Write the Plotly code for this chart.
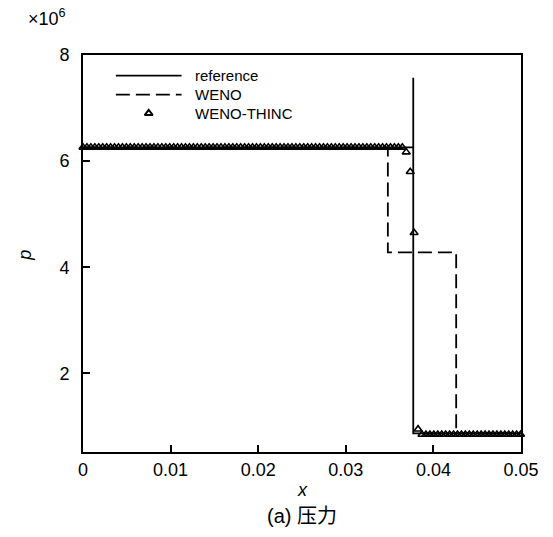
import numpy as np
import plotly.graph_objects as go

# reference solution
ref_x = [0.0, 0.0377, 0.0377, 0.0377, 0.05]
ref_y = [6.26, 6.26, 7.57, 0.87, 0.87]

# WENO
weno_x = [0.0, 0.0348, 0.0348, 0.0426, 0.0426, 0.05]
weno_y = [6.26, 6.26, 4.28, 4.28, 0.87, 0.87]

# WENO-THINC (cell samples)
thinc_x = [round(i * 0.00045, 5) for i in range(112)]
thinc_y = [6.26] * 82 + [6.17, 5.80, 4.65, 0.95] + [0.85] * 26

x_ticks = [0, 0.01, 0.02, 0.03, 0.04, 0.05]
x_ticklabels = ["0", "0.01", "0.02", "0.03", "0.04", "0.05"]
y_ticks = [2, 4, 6, 8]

legend_names = ["reference", "WENO", "WENO-THINC"]

FONT = "Liberation Sans, Arial, Noto Sans CJK SC, sans-serif"

fig = go.Figure()
fig.add_trace(go.Scatter(x=ref_x, y=ref_y, mode="lines",
                         line=dict(color="black", width=1.8), showlegend=False))
fig.add_trace(go.Scatter(x=weno_x, y=weno_y, mode="lines",
                         line=dict(color="black", width=1.8, dash="14px,6px"), showlegend=False))
fig.add_trace(go.Scatter(x=thinc_x, y=thinc_y, mode="markers",
                         marker=dict(symbol="triangle-up-open", size=7, color="black",
                                     line=dict(width=1.6, color="black")),
                         cliponaxis=False, showlegend=False))

# manual legend on overlay axes (0..1 in plot area)
leg_rows = [0.948, 0.900, 0.853]
fig.add_trace(go.Scatter(x=[0.075, 0.225], y=[leg_rows[0]] * 2, mode="lines",
                         line=dict(color="black", width=1.8), xaxis="x2", yaxis="y2", showlegend=False))
fig.add_trace(go.Scatter(x=[0.075, 0.225], y=[leg_rows[1]] * 2, mode="lines",
                         line=dict(color="black", width=1.8, dash="14px,6px"), xaxis="x2", yaxis="y2", showlegend=False))
fig.add_trace(go.Scatter(x=[0.15], y=[leg_rows[2]], mode="markers",
                         marker=dict(symbol="triangle-up-open", size=7, color="black",
                                     line=dict(width=2, color="black")),
                         xaxis="x2", yaxis="y2", showlegend=False))
for name, yy in zip(legend_names, leg_rows):
    fig.add_annotation(x=0.25, y=yy, xref="x2", yref="y2", text=name, showarrow=False,
                       xanchor="left", yanchor="middle", font=dict(size=15, family=FONT, color="black"))

axis_common = dict(showgrid=False, zeroline=False, showline=True, linecolor="black", linewidth=2,
                   mirror=True, ticks="inside", ticklen=7, tickwidth=1.5, tickcolor="black",
                   tickfont=dict(size=18, family=FONT, color="black"))

fig.update_layout(
    width=553, height=537,
    margin=dict(l=83, r=32, t=55, b=85),
    paper_bgcolor="white", plot_bgcolor="white",
    xaxis=dict(range=[0, 0.05], tickvals=x_ticks, ticktext=x_ticklabels, **axis_common),
    yaxis=dict(range=[0.52, 8.0], tickvals=y_ticks, ticklabelstandoff=8, **axis_common),
    xaxis2=dict(range=[0, 1], overlaying="x", visible=False, anchor="y2"),
    yaxis2=dict(range=[0, 1], overlaying="y", visible=False, anchor="x2"),
    font=dict(family=FONT, color="black"),
)

fig.add_annotation(x=-0.082, y=1.095, xref="paper", yref="paper", text="×10<sup>6</sup>",
                   showarrow=False, xanchor="center", yanchor="middle",
                   font=dict(size=18, family=FONT, color="black"))
fig.add_annotation(x=-0.132, y=0.495, xref="paper", yref="paper", text="<i>p</i>",
                   showarrow=False, textangle=-90, xanchor="center", yanchor="middle",
                   font=dict(size=18, family=FONT, color="black"))
fig.add_annotation(x=0.5, y=-0.095, xref="paper", yref="paper", text="<i>x</i>",
                   showarrow=False, xanchor="center", yanchor="middle",
                   font=dict(size=18, family=FONT, color="black"))
fig.add_annotation(x=0.5, y=-0.16, xref="paper", yref="paper", text="(a) 压力",
                   showarrow=False, xanchor="center", yanchor="middle",
                   font=dict(size=20, family=FONT, color="black"))

fig.write_html("out.html")
